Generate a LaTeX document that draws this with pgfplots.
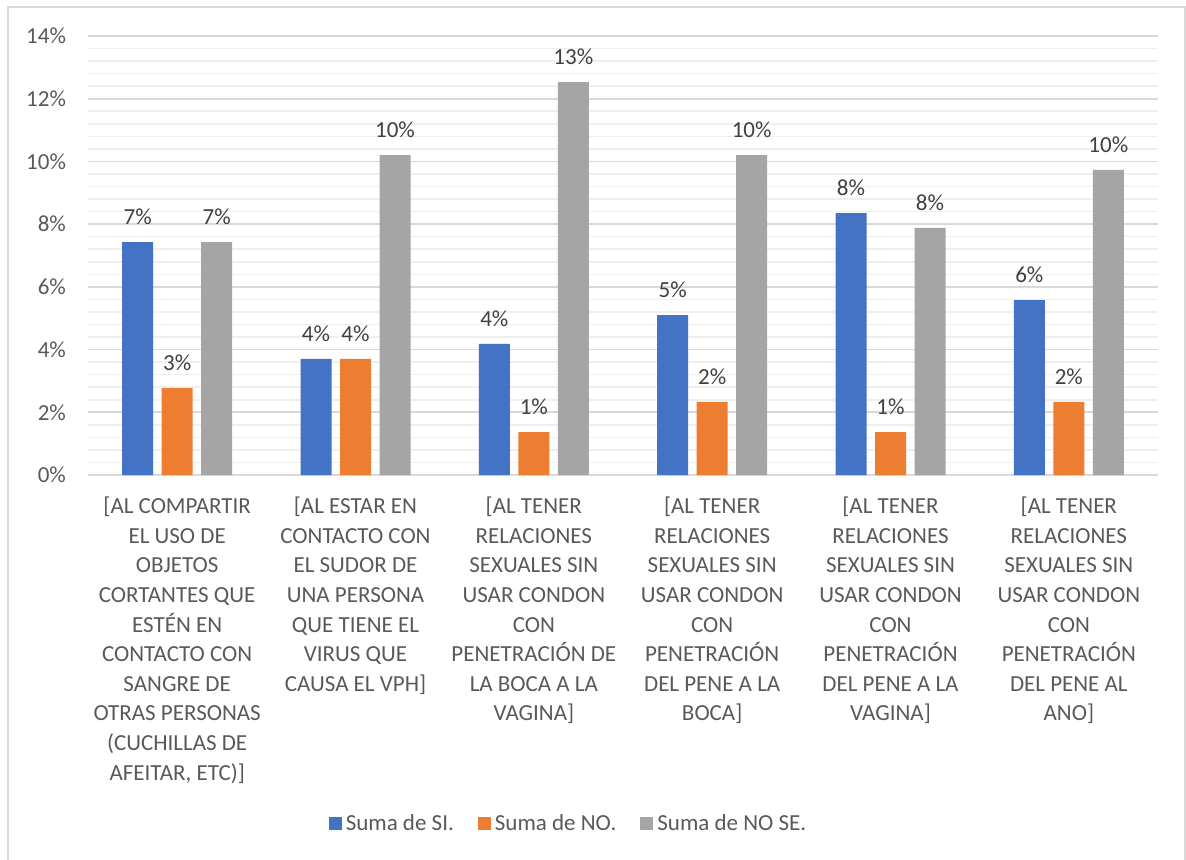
\documentclass[border=0pt]{standalone}
\usepackage{pgfplots}
\pgfplotsset{compat=1.18}
\usepackage{fontspec}
\setmainfont{Carlito}
\definecolor{cSI}{HTML}{4472C4}
\definecolor{cNO}{HTML}{ED7D31}
\definecolor{cNS}{HTML}{A5A5A5}
\definecolor{txt}{HTML}{595959}
\definecolor{lbl}{HTML}{404040}
\definecolor{gmaj}{HTML}{D9D9D9}
\definecolor{gmin}{HTML}{EFEFEF}
\begin{document}
\begin{tikzpicture}
\fontsize{11.5}{14.8}\selectfont
\useasboundingbox (0,0) rectangle (593pt,429.5pt);
\draw[gmaj, line width=0.8pt] (4pt,-5pt) -- (4pt,426pt) -- (592.6pt,426pt) -- (592.6pt,-5pt);
\begin{axis}[
    at={(44pt,192pt)}, anchor=south west,
    scale only axis, width=535pt, height=219.5pt,
    ybar=4.25pt, bar width=15.5pt,
    xmin=-0.5, xmax=5.5, ymin=0, ymax=14,
    axis line style={draw=none},
    major tick length=0pt, minor tick length=0pt,
    ytick={0,2,...,14}, minor y tick num=4,
    ymajorgrids, yminorgrids,
    major grid style={gmaj, line width=0.8pt},
    minor grid style={gmin, line width=0.8pt},
    /pgf/number format/assume math mode=true,
    yticklabel={\pgfmathprintnumber{\tick}\%},
    yticklabel style={text=txt, xshift=-7pt},
    xtick={0,...,5},
    xticklabels={
      {[AL COMPARTIR\\EL USO DE\\OBJETOS\\CORTANTES QUE\\ESTÉN EN\\CONTACTO CON\\SANGRE DE\\OTRAS PERSONAS\\(CUCHILLAS DE\\AFEITAR, ETC)]},
      {[AL ESTAR EN\\CONTACTO CON\\EL SUDOR DE\\UNA PERSONA\\QUE TIENE EL\\VIRUS QUE\\CAUSA EL VPH]},
      {[AL TENER\\RELACIONES\\SEXUALES SIN\\USAR CONDON\\CON\\PENETRACIÓN DE\\LA BOCA A LA\\VAGINA]},
      {[AL TENER\\RELACIONES\\SEXUALES SIN\\USAR CONDON\\CON\\PENETRACIÓN\\DEL PENE A LA\\BOCA]},
      {[AL TENER\\RELACIONES\\SEXUALES SIN\\USAR CONDON\\CON\\PENETRACIÓN\\DEL PENE A LA\\VAGINA]},
      {[AL TENER\\RELACIONES\\SEXUALES SIN\\USAR CONDON\\CON\\PENETRACIÓN\\DEL PENE AL\\ANO]}},
    xticklabel style={text=txt, align=center, yshift=-7pt},
    nodes near coords={\pgfmathprintnumber[fixed,precision=0]{\pgfplotspointmeta}\%},
    nodes near coords style={text=lbl, yshift=4.5pt},
    legend columns=3,
    legend style={at={(0.45,-0.795)}, anchor=center, draw=none, fill=none,
      text=txt, /tikz/every even column/.append style={column sep=10pt}},
    legend image code/.code={\fill[#1] (-2pt,-3pt) rectangle (4.5pt,3.5pt);},
  ]
  \addplot[fill=cSI, draw=none] coordinates {(0,7.43) (1,3.70) (2,4.18) (3,5.10) (4,8.35) (5,5.58)};
  \addplot[fill=cNO, draw=none] coordinates {(0,2.77) (1,3.70) (2,1.37) (3,2.33) (4,1.37) (5,2.33)};
  \addplot[fill=cNS, draw=none] coordinates {(0,7.43) (1,10.20) (2,12.53) (3,10.20) (4,7.88) (5,9.73)};
  \legend{Suma de SI., Suma de NO., Suma de NO SE.}
\end{axis}
\end{tikzpicture}
\end{document}
